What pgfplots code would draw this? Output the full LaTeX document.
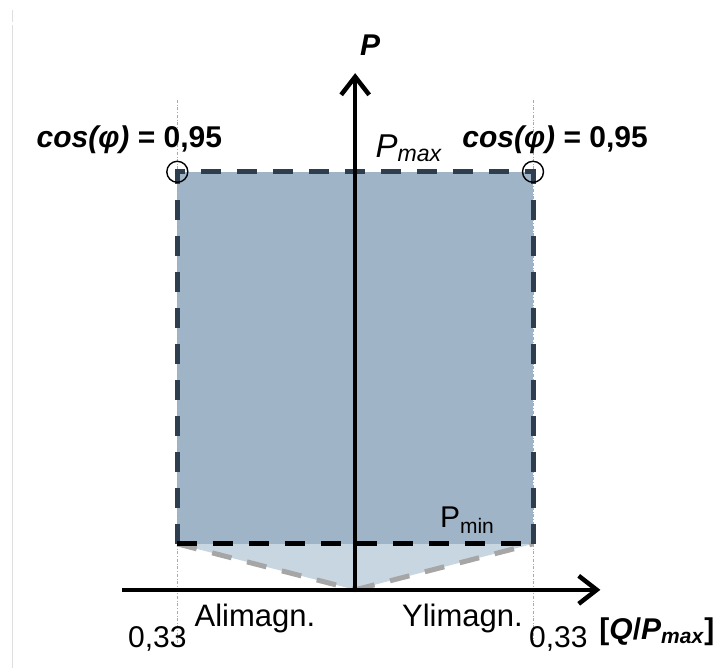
\documentclass[border=0pt]{standalone}
\usepackage{fontspec}
\setmainfont{Liberation Sans}
\usepackage{pgfplots}
\pgfplotsset{compat=1.18}
\usetikzlibrary{arrows.meta}

\definecolor{opfill}{RGB}{160,180,200}
\definecolor{lowfill}{RGB}{200,214,226}
\definecolor{edge}{RGB}{47,62,78}
\definecolor{slope}{RGB}{166,166,166}
\definecolor{guide}{RGB}{170,170,170}
\definecolor{frameline}{RGB}{222,222,222}

\begin{document}
\fontsize{30}{35}\selectfont
\begin{tikzpicture}[font=\fontsize{30}{35}\selectfont]
\begin{axis}[
  width=720pt, height=668pt, scale only axis,
  xmin=-0.659, xmax=0.677, ymin=-0.187, ymax=1.411,
  hide axis, clip=false,
]
% corners of the drawing area
\coordinate (bl) at (rel axis cs:0,0);
\coordinate (tr) at (rel axis cs:1,1);

% faint frame line on the left
\draw[frameline, line width=1.5pt] (axis cs:-0.636,1.388) -- (axis cs:-0.636,1.359);
\draw[frameline, line width=1.5pt] (axis cs:-0.636,1.352) -- (axis cs:-0.636,-0.187);

% area below P_min (triangle to the origin)
\addplot[fill=lowfill, draw=none] coordinates {(-0.33,0.11) (0.33,0.11) (0,0)} -- cycle;
% allowed operating area
\addplot[fill=opfill, draw=none] coordinates {(-0.33,0.11) (-0.33,1) (0.33,1) (0.33,0.11)} -- cycle;

% guide lines at Q/Pmax = 0.33
\addplot[guide, thin, dash dot] coordinates {(-0.33,1.172) (-0.33,-0.135)};
\addplot[guide, thin, dash dot] coordinates {(0.33,1.172) (0.33,-0.135)};

% sloped limits from P_min to the origin
\addplot[slope, line width=5pt, dash pattern=on 20pt off 16pt] coordinates {(-0.33,0.11) (0,0)};
\addplot[slope, line width=5pt, dash pattern=on 20pt off 16pt] coordinates {(0,0) (0.33,0.11)};

% border of the operating area
\addplot[edge, line width=5pt, dash pattern=on 20pt off 16pt] coordinates {(-0.33,0.11) (-0.33,1) (0.33,1) (0.33,0.11)};
\addplot[black, line width=5pt, dash pattern=on 20pt off 16pt] coordinates {(-0.33,0.11) (0.33,0.11)};

% power factor corner points
\addplot[only marks, mark=o, mark size=10.5pt, mark options={line width=1.4pt, black}] coordinates {(-0.33,1) (0.33,1)};

% axes
\draw[line width=4.5pt, -{Straight Barb[length=18pt,width=28pt,line width=4.5pt]}] (axis cs:-0.432,0) -- (axis cs:0.455,0);
\draw[line width=4.5pt, -{Straight Barb[length=18pt,width=28pt,line width=4.5pt]}] (axis cs:0,0) -- (axis cs:0,1.236);

% labels
\node at (axis cs:0.028,1.304) {\textbf{\textit{P}}};
\node at (axis cs:-0.419,1.077) {\textbf{\textit{cos(φ)} = 0,95}};
\node at (axis cs:0.371,1.077) {\textbf{\textit{cos(φ)} = 0,95}};
\node at (axis cs:0.100,1.057) {\fontsize{33}{38}\selectfont\textit{P}\textsubscript{\textit{max}}};
\node at (axis cs:0.208,0.167) {P\textsubscript{min}};
\node at (axis cs:-0.186,-0.068) {\fontsize{31}{36}\selectfont Alimagn.};
\node at (axis cs:0.199,-0.068) {\fontsize{31}{36}\selectfont Ylimagn.};
\node at (axis cs:-0.367,-0.118) {0,33};
\node at (axis cs:0.377,-0.118) {0,33};
\node at (axis cs:0.560,-0.100) {\textbf{[\textit{Q}/\textit{P}\textsubscript{\textit{max}}]}};
\end{axis}
\pgfresetboundingbox
\useasboundingbox (bl) rectangle (tr);
\end{tikzpicture}
\end{document}
